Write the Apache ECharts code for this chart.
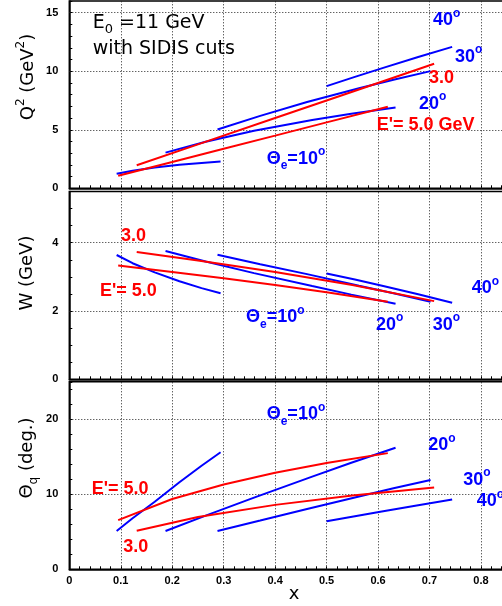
<!DOCTYPE html>
<html><head><meta charset="utf-8">
<script src="https://cdn.jsdelivr.net/npm/echarts@6/dist/echarts.min.js"></script>
<style>html,body{margin:0;padding:0;background:#fff}#c{width:502px;height:606px}</style>
</head><body><div id="c"></div>
<script>
// ---- data ----
// blue: fixed electron angle theta_e
const th10_x   = [0.092, 0.123, 0.166, 0.214, 0.257, 0.294];
const th10_Q2  = [1.25, 1.50, 1.77, 2.01, 2.17, 2.29];
const th10_W   = [3.64, 3.40, 3.13, 2.87, 2.67, 2.52];
const th10_thq = [5.1, 6.8, 9.0, 11.6, 13.8, 15.6];

const th20_x   = [0.187, 0.265, 0.359, 0.472, 0.548, 0.634];
const th20_Q2  = [3.05, 3.98, 4.91, 5.84, 6.37, 6.90];
const th20_W   = [3.76, 3.45, 3.11, 2.73, 2.48, 2.21];
const th20_thq = [5.1, 7.15, 9.55, 12.36, 14.2, 16.2];

const th30_x   = [0.288, 0.371, 0.462, 0.563, 0.630, 0.702];
const th30_Q2  = [5.02, 6.19, 7.37, 8.55, 9.28, 10.01];
const th30_W   = [3.65, 3.37, 3.08, 2.74, 2.52, 2.27];
const th30_thq = [5.1, 6.5, 8.05, 9.7, 10.8, 11.9];

const th40_x   = [0.500, 0.555, 0.610, 0.678, 0.744];
const th40_Q2  = [8.73, 9.52, 10.29, 11.22, 12.08];
const th40_W   = [3.10, 2.92, 2.73, 2.49, 2.24];
const th40_thq = [6.4, 7.07, 7.73, 8.54, 9.31];

// red: fixed scattered energy E'
const ep5_x   = [0.095, 0.2, 0.3, 0.4, 0.5, 0.619];
const ep5_Q2  = [1.07, 2.25, 3.38, 4.50, 5.63, 6.97];
const ep5_W   = [3.33, 3.14, 2.96, 2.76, 2.55, 2.27];
const ep5_thq = [6.56, 9.37, 11.30, 12.86, 14.17, 15.49];

const ep3_x   = [0.131, 0.25, 0.4, 0.55, 0.709];
const ep3_Q2  = [1.97, 3.75, 6.00, 8.25, 10.64];
const ep3_W   = [3.73, 3.48, 3.14, 2.76, 2.29];
const ep3_thq = [5.13, 6.96, 8.59, 9.84, 10.90];

// tick / grid values
const xGridVals   = [0.1, 0.2, 0.3, 0.4, 0.5, 0.6, 0.7, 0.8];
const q2GridVals  = [5, 10, 15];
const wGridVals   = [2, 4];
const thqGridVals = [10, 20];

// ---- chart ----
const BLUE = '#0000ff', RED = '#ff0000';
const chart = echarts.init(document.getElementById('c'), null, {renderer: 'canvas'});

const L = 69.3, W = 437.4;
const grids = [
  {left: L, width: W, top: 1, height: 187.3},
  {left: L, width: W, top: 191.5, height: 187.8},
  {left: L, width: W, top: 381.8, height: 187.5}
].map(g => Object.assign(g, {show: true, borderColor: '#000', borderWidth: 1.5,
  containLabel: false, outerBoundsMode: 'none'}));

const tickFont = {fontFamily: 'Liberation Sans', fontWeight: 'bold', fontSize: 11, color: '#000'};

function near(v, step) { const r = v / step; return Math.abs(r - Math.round(r)) < 1e-6; }

const xAxes = [0, 1, 2].map(i => ({
  gridIndex: i, type: 'value', min: 0, max: 0.85, interval: 0.02,
  axisLine: {show: true, onZero: false, lineStyle: {color: '#000', width: 1.5}},
  axisTick: {show: true, inside: true, length: 3, lineStyle: {color: '#000', width: 1}},
  axisLabel: Object.assign({show: i === 2, margin: 6,
    formatter: v => near(v, 0.1) ? String(Math.round(v * 10) / 10) : ''}, tickFont),
  splitLine: {show: false}
}));

const yDefs = [
  {max: 16, interval: 1, lab: 5},
  {max: 5.5, interval: 0.5, lab: 2},
  {max: 25, interval: 2, lab: 10}
];
const yAxes = yDefs.map((d, i) => ({
  gridIndex: i, type: 'value', min: 0, max: d.max, interval: d.interval,
  axisLine: {show: true, onZero: false, lineStyle: {color: '#000', width: 1.5}},
  axisTick: {show: true, inside: true, length: 3, lineStyle: {color: '#000', width: 1}},
  axisLabel: Object.assign({margin: 11,
    formatter: v => (near(v, d.lab) && v <= d.max - 0.6 * d.interval) ? String(Math.round(v)) : ''}, tickFont),
  splitLine: {show: false}
}));

function gridSeries(i, yVals) {
  return {
    type: 'line', xAxisIndex: i, yAxisIndex: i, data: [[0, 0]], symbol: 'none',
    lineStyle: {opacity: 0}, silent: true, z: 1,
    markLine: {
      silent: true, symbol: ['none', 'none'], z: 1, animation: false,
      label: {show: false},
      lineStyle: {type: [1, 2], color: '#222', width: 1},
      data: xGridVals.map(v => ({xAxis: v})).concat(yVals.map(v => ({yAxis: v})))
    }
  };
}

function line(xs, ys, color, i) {
  return {
    type: 'line', xAxisIndex: i, yAxisIndex: i,
    data: xs.map((x, k) => [x, ys[k]]),
    symbol: 'none', showSymbol: false, smooth: false, silent: true, z: 3,
    lineStyle: {color: color, width: 2}
  };
}

const series = [
  gridSeries(0, q2GridVals), gridSeries(1, wGridVals), gridSeries(2, thqGridVals),
  line(th10_x, th10_Q2, BLUE, 0), line(th20_x, th20_Q2, BLUE, 0),
  line(th30_x, th30_Q2, BLUE, 0), line(th40_x, th40_Q2, BLUE, 0),
  line(ep5_x, ep5_Q2, RED, 0), line(ep3_x, ep3_Q2, RED, 0),
  line(th10_x, th10_W, BLUE, 1), line(th20_x, th20_W, BLUE, 1),
  line(th30_x, th30_W, BLUE, 1), line(th40_x, th40_W, BLUE, 1),
  line(ep5_x, ep5_W, RED, 1), line(ep3_x, ep3_W, RED, 1),
  line(th10_x, th10_thq, BLUE, 2), line(th20_x, th20_thq, BLUE, 2),
  line(th30_x, th30_thq, BLUE, 2), line(th40_x, th40_thq, BLUE, 2),
  line(ep5_x, ep5_thq, RED, 2), line(ep3_x, ep3_thq, RED, 2)
];

// ---- text annotations ----
function txt(text, x, y, color, o) {
  o = o || {};
  const fam = o.family || 'Liberation Sans';
  const fs = o.size || 18;
  const wt = o.weight || 'bold';
  const small = Math.round(fs * 0.66);
  return {
    type: 'text', x: x, y: y, rotation: o.rot || 0, z: 10, silent: true,
    style: {
      text: text, fill: color, fontFamily: fam, fontSize: fs, fontWeight: wt,
      lineHeight: fs + 8, align: o.align || 'left', verticalAlign: 'middle',
      rich: {
        sub: {fontFamily: fam, fontSize: small, fontWeight: wt, fill: color, lineHeight: small, verticalAlign: 'bottom'},
        sup: {fontFamily: fam, fontSize: small, fontWeight: wt, fill: color, lineHeight: small, verticalAlign: 'top'}
      }
    }
  };
}

const DJ = {family: 'DejaVu Sans', size: 19, weight: 'normal'};
const TT = {family: 'DejaVu Sans', size: 18, weight: 'normal', rot: Math.PI / 2, align: 'center'};
const graphics = [
  // panel 1
  txt('E{sub|0} =11 GeV', 92.7, 23, '#000', DJ),
  txt('with SIDIS cuts', 92.7, 49, '#000', DJ),
  txt('40{sup|o}', 433, 20.5, BLUE),
  txt('30{sup|o}', 455, 57, BLUE),
  txt('3.0', 429, 78, RED),
  txt('20{sup|o}', 419, 104, BLUE),
  txt("E'= 5.0 GeV", 376.7, 125.5, RED),
  txt('\u0398{sub|e}=10{sup|o}', 266.7, 159, BLUE),
  // panel 2
  txt('3.0', 121, 236.5, RED),
  txt("E'= 5.0", 100, 291, RED),
  txt('\u0398{sub|e}=10{sup|o}', 246, 317.5, BLUE),
  txt('20{sup|o}', 376, 325, BLUE),
  txt('30{sup|o}', 432.7, 325, BLUE),
  txt('40{sup|o}', 471.7, 288.5, BLUE),
  // panel 3
  txt('\u0398{sub|e}=10{sup|o}', 266.7, 414.5, BLUE),
  txt('20{sup|o}', 428.3, 445.5, BLUE),
  txt('30{sup|o}', 463.3, 480, BLUE),
  txt('40{sup|o}', 476.7, 501.5, BLUE),
  txt("E'= 5.0", 91.7, 489.5, RED),
  txt('3.0', 123.3, 547.5, RED),
  // axis titles
  txt('Q{sup|2} (GeV{sup|2})', 28, 77, '#000', TT),
  txt('W (GeV)', 27, 273, '#000', TT),
  txt('\u0398{sub|q} (deg.)', 27, 458, '#000', TT),
  txt('x', 294, 594, '#000', {family: 'DejaVu Sans', size: 18, weight: 'normal', align: 'center'})
];

chart.setOption({
  animation: false,
  backgroundColor: '#fff',
  grid: grids,
  xAxis: xAxes,
  yAxis: yAxes,
  series: series,
  graphic: graphics
});
</script>
</body></html>
